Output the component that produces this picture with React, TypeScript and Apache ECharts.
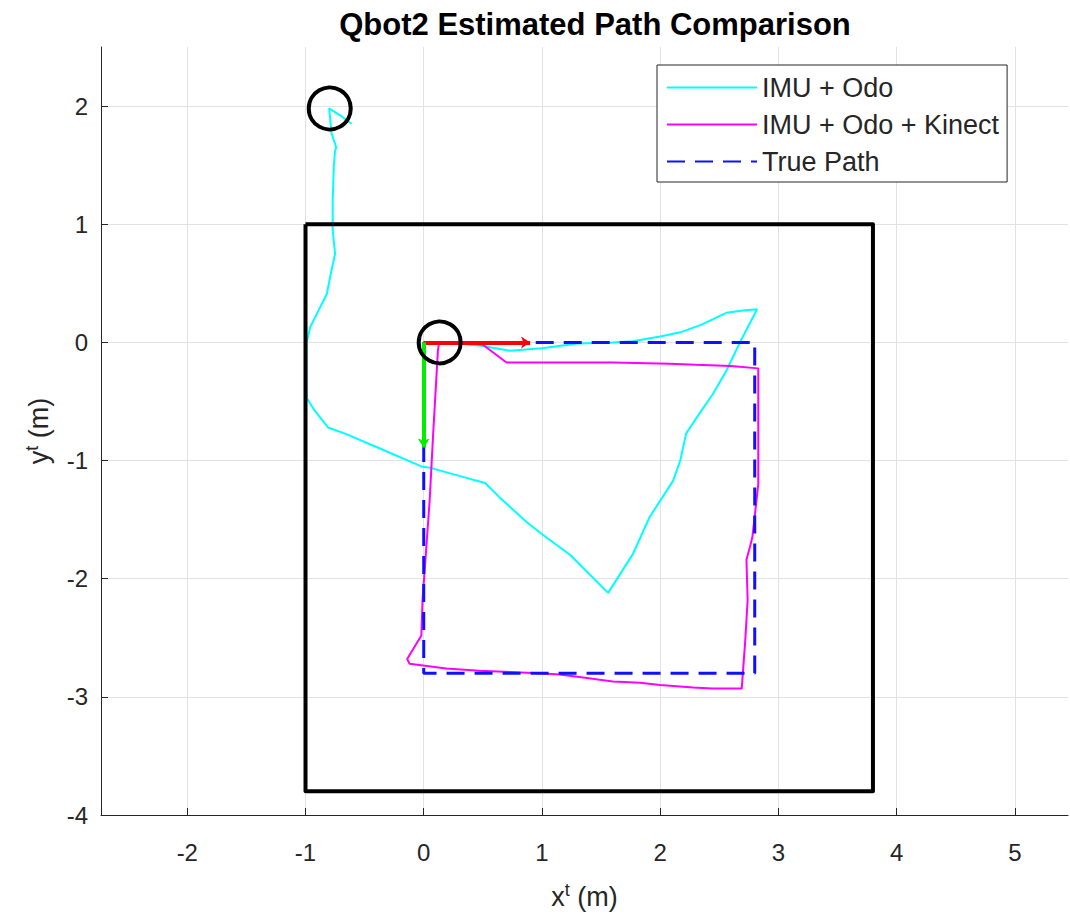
import React, { useEffect, useRef } from "react";
import * as echarts from "echarts";

const FONT = "'Liberation Sans', Arial, Helvetica, sans-serif";

const xTicks = [-2, -1, 0, 1, 2, 3, 4, 5];
const yTicks = [-4, -3, -2, -1, 0, 1, 2];

const seriesNames = ["IMU + Odo", "IMU + Odo + Kinect", "True Path"];

// IMU + Odo estimated path (x, y)
const imuOdoX = [0, 0.3, 0.5, 0.73, 1.0, 1.3, 1.6, 1.77, 2.0, 2.17, 2.35, 2.56, 2.7, 2.82, 2.67, 2.56, 2.45, 2.3, 2.22, 2.17, 2.11, 1.91, 1.77, 1.56, 1.24, 1.01, 0.87, 0.64, 0.52, 0.3, 0.05, -0.02, -0.39, -0.67, -0.81, -0.92, -0.99, -0.99, -0.99, -0.96, -0.9, -0.82, -0.78, -0.75, -0.77, -0.77, -0.76, -0.75, -0.74, -0.78, -0.8, -0.69, -0.61];
const imuOdoY = [0, -0.01, -0.03, -0.07, -0.05, -0.01, 0.0, 0.01, 0.05, 0.085, 0.15, 0.25, 0.27, 0.28, -0.01, -0.24, -0.43, -0.65, -0.77, -1.0, -1.17, -1.48, -1.79, -2.12, -1.8, -1.63, -1.52, -1.31, -1.19, -1.13, -1.06, -1.05, -0.89, -0.77, -0.72, -0.58, -0.47, -0.2, 0.0, 0.13, 0.25, 0.41, 0.61, 0.75, 0.95, 1.2, 1.5, 1.62, 1.65, 1.77, 1.98, 1.91, 1.85];

// IMU + Odo + Kinect estimated path (x, y)
const kinectX = [0, 0.3, 0.5, 0.7, 1.0, 1.32, 1.6, 2.08, 2.3, 2.6, 2.83, 2.83, 2.83, 2.78, 2.76, 2.73, 2.74, 2.72, 2.69, 2.44, 2.28, 2.0, 1.83, 1.6, 1.38, 1.15, 0.98, 0.47, 0.19, -0.12, -0.14, -0.02, -0.01, 0.05, 0.08, 0.12, 0.13];
const kinectY = [0, 0.0, -0.02, -0.17, -0.17, -0.17, -0.17, -0.18, -0.19, -0.2, -0.22, -0.89, -1.2, -1.65, -1.73, -1.84, -2.18, -2.52, -2.93, -2.93, -2.92, -2.9, -2.88, -2.87, -2.84, -2.81, -2.8, -2.78, -2.76, -2.72, -2.68, -2.48, -2.18, -1.34, -0.77, -0.07, 0.0];

// True path (square)
const trueX = [0, 2.8, 2.8, 0, 0];
const trueY = [0, 0, -2.8, -2.8, 0];

// Room boundary
const roomX = [-1, 3.8, 3.8, -1, -1];
const roomY = [1, 1, -3.8, -3.8, 1];

// Robot pose markers (circles)
const poseX = [-0.795, 0.135];
const poseY = [1.98, 0.0];

// Frame axes (quiver) origin and tips
const frameOrigin = [0, 0];
const xArrowTip = [0.9, 0];
const yArrowTip = [0, -0.89];

const zip = (xs: number[], ys: number[]) => xs.map((x, i) => [x, ys[i]]);

export default function App() {
  const ref = useRef<HTMLDivElement>(null);
  useEffect(() => {
    if (!ref.current) return;
    const chart = echarts.init(ref.current, null, { renderer: "svg" });
    const axisColor = "#262626";
    const gridColor = "#e2e2e2";
    const nameRich = {
      a: { fontSize: 27, fontFamily: FONT, color: axisColor, lineHeight: 32 },
      s: { fontSize: 18, fontFamily: FONT, color: axisColor, verticalAlign: "top", lineHeight: 18 },
    };
    chart.setOption({
      animation: false,
      backgroundColor: "#ffffff",
      title: {
        text: "Qbot2 Estimated Path Comparison",
        left: 590,
        textAlign: "center",
        top: 4,
        textStyle: { fontSize: 31, fontWeight: "bold", color: "#000", fontFamily: FONT },
      },
      grid: { left: 101, top: 47, right: 2, bottom: 106, containLabel: false },
      legend: {
        data: seriesNames,
        orient: "vertical",
        left: 657,
        top: 65,
        padding: [9, 8, 7, 9],
        itemWidth: 90,
        itemHeight: 14,
        itemGap: 10,
        borderColor: axisColor,
        borderWidth: 1,
        backgroundColor: "#fff",
        itemStyle: { opacity: 0 },
        textStyle: { fontSize: 27, fontFamily: FONT, color: axisColor, lineHeight: 27 },
      },
      xAxis: {
        type: "value",
        min: -2.73,
        max: 5.45,
        name: "{a|x}{s|t}{a| (m)}",
        nameLocation: "middle",
        nameGap: 66,
        nameTextStyle: { rich: nameRich },
        axisLine: { show: true, onZero: false, lineStyle: { color: axisColor, width: 1 } },
        axisTick: { show: true, inside: true, length: 7, customValues: xTicks, lineStyle: { color: axisColor } },
        axisLabel: { customValues: xTicks, fontSize: 24, color: axisColor, margin: 25, fontFamily: FONT },
        splitLine: { show: true, lineStyle: { color: gridColor, width: 1 } },
      },
      yAxis: {
        type: "value",
        min: -4,
        max: 2.5,
        name: "{a|y}{s|t}{a| (m)}",
        nameLocation: "middle",
        nameGap: 46,
        nameRotate: 90,
        nameTextStyle: { rich: nameRich },
        axisLine: { show: true, onZero: false, lineStyle: { color: axisColor, width: 1 } },
        axisTick: { show: true, inside: true, length: 7, customValues: yTicks, lineStyle: { color: axisColor } },
        axisLabel: { customValues: yTicks, fontSize: 24, color: axisColor, margin: 13, fontFamily: FONT },
        splitLine: { show: true, lineStyle: { color: gridColor, width: 1 } },
      },
      series: [
        {
          name: seriesNames[0],
          type: "line",
          data: zip(imuOdoX, imuOdoY),
          symbol: "none",
          color: "#00ffff",
          lineStyle: { color: "#00ffff", width: 2 },
          z: 2,
        },
        {
          name: seriesNames[1],
          type: "line",
          data: zip(kinectX, kinectY),
          symbol: "none",
          color: "#ff00ff",
          lineStyle: { color: "#ff00ff", width: 2 },
          z: 3,
        },
        {
          name: seriesNames[2],
          type: "line",
          data: zip(trueX, trueY),
          symbol: "none",
          color: "#0000ff",
          lineStyle: { color: "#1010ff", width: 3, type: [18, 10] },
          z: 4,
        },
        {
          name: "Boundary",
          type: "line",
          data: zip(roomX, roomY),
          symbol: "none",
          lineStyle: { color: "#000", width: 4, join: "round" },
          z: 5,
        },
        {
          name: "Frame",
          type: "lines",
          coordinateSystem: "cartesian2d",
          symbol: ["none", "arrow"],
          symbolSize: 9,
          data: [
            { coords: [frameOrigin, xArrowTip], lineStyle: { color: "#ff0000" } },
            { coords: [frameOrigin, yArrowTip], lineStyle: { color: "#00ee00" } },
          ],
          lineStyle: { width: 4, opacity: 1 },
          z: 6,
        },
        {
          name: "Pose",
          type: "scatter",
          data: zip(poseX, poseY),
          symbol: "circle",
          symbolSize: 42,
          itemStyle: { color: "rgba(0,0,0,0)", borderColor: "#000", borderWidth: 4, opacity: 1 },
          z: 7,
        },
      ],
    });
    return () => chart.dispose();
  }, []);
  return (
    <div
      ref={ref}
      style={{ position: "absolute", left: 0, top: 0, width: 1070, height: 921 }}
    />
  );
}
